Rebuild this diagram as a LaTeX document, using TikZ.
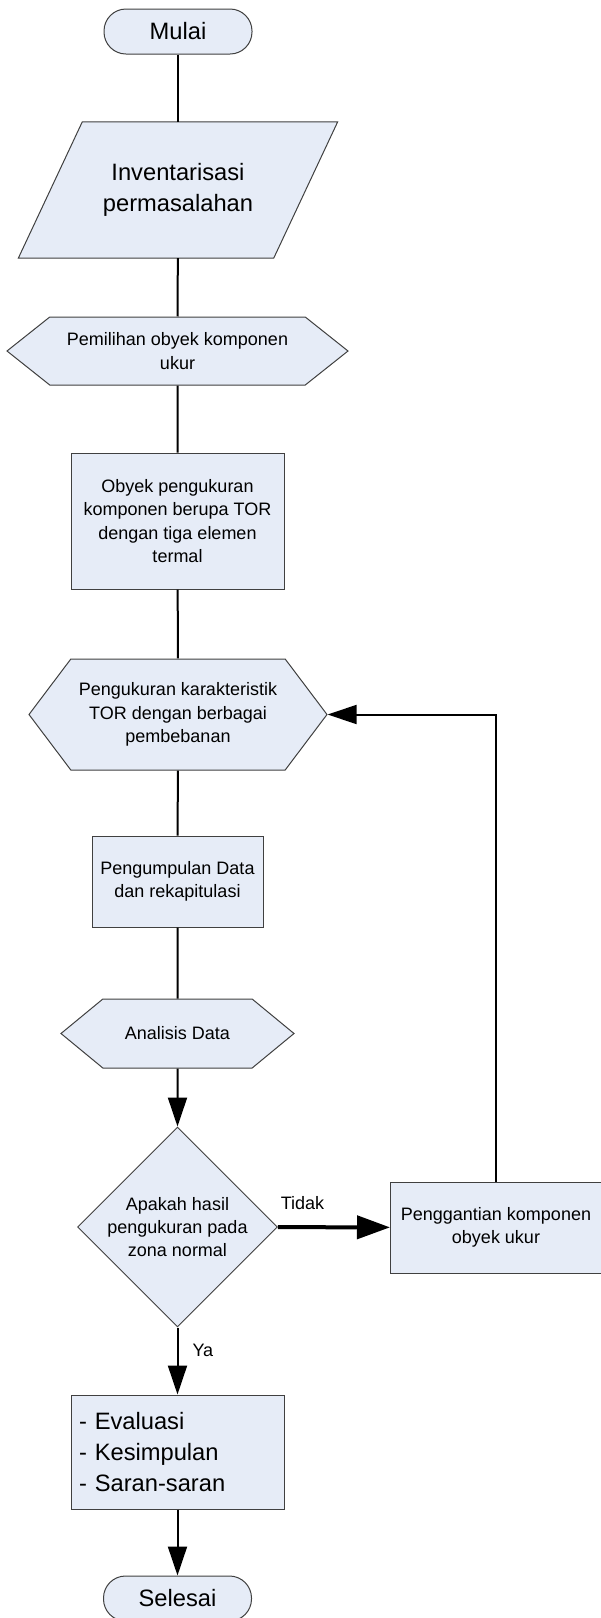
\documentclass[tikz,border=0pt]{standalone}
\usepackage{fontspec}
\setmainfont{Liberation Sans}
\usetikzlibrary{arrows.meta, shapes.geometric, shapes.symbols, backgrounds}

\definecolor{boxfill}{RGB}{230,236,247}
\definecolor{boxline}{RGB}{64,64,64}

\tikzset{
  outline/.style={draw=boxline, fill=boxfill, line width=1pt},
  base/.style={outline, align=center, inner sep=0pt,
    font=\fontsize{18}{23.3}\selectfont},
  terminal/.style={base, rectangle, rounded corners=22pt, minimum width=148pt, minimum height=45pt,
    font=\fontsize{23.7}{31}\selectfont},
  io/.style={align=center, inner sep=0pt, minimum width=255pt, minimum height=136pt,
    font=\fontsize{23.7}{31}\selectfont},
  prep/.style={base, signal, signal to=west and east},
  proc/.style={base, rectangle},
  decision/.style={base, diamond, minimum width=187pt, minimum height=186pt},
  line/.style={line width=2pt},
  flow/.style={line, -{Triangle[length=29pt, width=19pt]}},
}

\begin{document}
\begin{tikzpicture}[x=1pt, y=-1pt]
  \useasboundingbox (0,0) rectangle (601,1618);
  % Main column
  \node[terminal] (mulai) at (178,31.5) {Mulai};
  \node[io] (inventaris) at (178,190) {Inventarisasi\\permasalahan};
  \node[prep, signal pointer angle=77, minimum width=341pt, minimum height=68pt] (pemilihan) at (177.5,351) {Pemilihan obyek komponen\\ukur};
  \node[proc, minimum width=213pt, minimum height=136pt] (obyek) at (177.5,521) {Obyek pengukuran\\komponen berupa TOR\\dengan tiga elemen\\termal};
  \node[prep, signal pointer angle=106, minimum width=298pt, minimum height=111pt] (ukur) at (178,714.5) {Pengukuran karakteristik\\TOR dengan berbagai\\pembebanan};
  \node[proc, minimum width=171pt, minimum height=91pt] (kumpul) at (177.5,881.5) {Pengumpulan Data\\dan rekapitulasi};
  \node[prep, signal pointer angle=79, minimum width=233pt, minimum height=69pt] (analisis) at (177.5,1033.5) {Analisis Data};
  \node[decision] (cek) at (177.5,1227) {Apakah hasil\\pengukuran pada\\zona normal};
  \node[proc, text width=197pt, inner xsep=8pt, minimum height=114pt, align=left,
    font=\fontsize{23.7}{31}\selectfont] (hasil) at (177.5,1452) {- Evaluasi\\- Kesimpulan\\- Saran-saran};
  \node[terminal] (selesai) at (177.5,1598.5) {Selesai};
  % Side branch
  \node[proc, minimum width=211pt, minimum height=91pt] (ganti) at (496,1227.5) {Penggantian komponen\\obyek ukur};
  % Parallelogram behind its text
  \begin{scope}[on background layer]
    \draw[outline] ([xshift=32pt]inventaris.north west) -- ([xshift=32pt]inventaris.north east)
      -- ([xshift=-32pt]inventaris.south east) -- ([xshift=-32pt]inventaris.south west) -- cycle;
  \end{scope}
  % Connectors
  \draw[line] (mulai) -- (inventaris);
  \draw[line] (inventaris) -- (pemilihan);
  \draw[line] (pemilihan) -- (obyek);
  \draw[line] (obyek) -- (ukur);
  \draw[line] (ukur) -- (kumpul);
  \draw[line] (kumpul) -- (analisis);
  \draw[flow] (analisis) -- (cek);
  \draw[line, line width=4pt, -{Triangle[length=33pt, width=23pt]}] (cek) --
    node[pos=0, anchor=south west, inner sep=0pt, xshift=1pt, yshift=15pt,
      font=\fontsize{18}{22}\selectfont] {Tidak} (ganti);
  \draw[flow] (cek) --
    node[pos=0, anchor=north west, inner sep=0pt, xshift=14pt, yshift=-15.5pt,
      font=\fontsize{18}{22}\selectfont] {Ya} (hasil);
  \draw[flow] (hasil) -- (selesai);
  \draw[flow] (ganti) |- (ukur);
\end{tikzpicture}
\end{document}
